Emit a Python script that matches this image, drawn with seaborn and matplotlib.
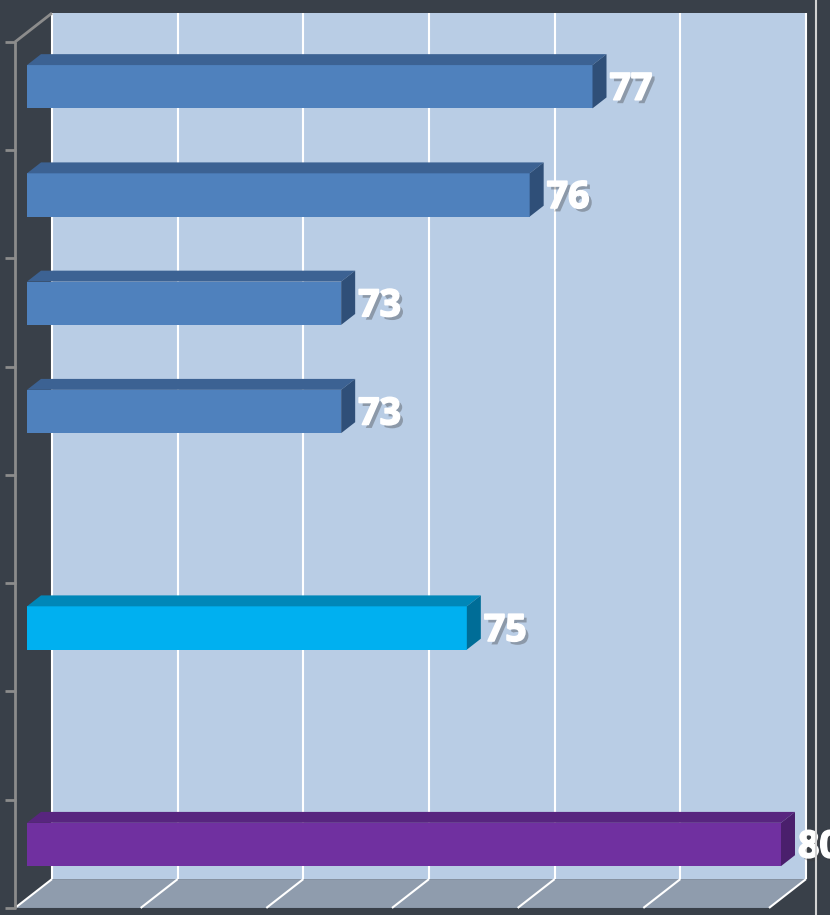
import numpy as np
import pandas as pd
import matplotlib
matplotlib.use("Agg")
import matplotlib.pyplot as plt
import seaborn as sns
from matplotlib.patches import Polygon
from matplotlib.lines import Line2D
from matplotlib.transforms import IdentityTransform
import matplotlib.patheffects as pe

# ---------------- data ----------------
categories = ["Cat 1", "Cat 2", "Cat 3", "Cat 4", "Cat 5", "Cat 6", "Cat 7", "Cat 8"]
bar_categories = ["Cat 1", "Cat 2", "Cat 3", "Cat 4", "Cat 6", "Cat 8"]
values = [77, 76, 73, 73, 75, 80]
x_min, x_max, x_step = 68, 80, 2

front_colors = {"Cat 1": "#4f81bd", "Cat 2": "#4f81bd", "Cat 3": "#4f81bd",
                "Cat 4": "#4f81bd", "Cat 6": "#00b0f0", "Cat 8": "#7030a0"}
top_colors = {"Cat 1": "#3c6293", "Cat 2": "#3c6293", "Cat 3": "#3c6293",
              "Cat 4": "#3c6293", "Cat 6": "#0087b8", "Cat 8": "#58257f"}
side_colors = {"Cat 1": "#2f4f78", "Cat 2": "#2f4f78", "Cat 3": "#2f4f78",
               "Cat 4": "#2f4f78", "Cat 6": "#006d97", "Cat 8": "#4a1f6c"}

BG = "#394049"
WALL = "#b9cde5"
FLOOR = "#8f9cad"
AXIS_GRAY = "#8c8c8c"

df = pd.DataFrame({"category": bar_categories, "value": values})
value_of = dict(zip(bar_categories, values))

W, H, DPI = 830, 915, 100
fig = plt.figure(figsize=(W / DPI, H / DPI), dpi=DPI, facecolor=BG)
top_px, bot_px = 32.6, 898.6
ax = fig.add_axes([27 / W, 1 - bot_px / H, 754 / W, (bot_px - top_px) / H])
ax.set_facecolor("none")

sns.barplot(data=df, x="value", y="category", order=categories, hue="category",
            palette=front_colors, width=0.4, orient="h", legend=False, ax=ax,
            edgecolor="none", saturation=1, zorder=2)
ax.set_xlim(x_min, x_max)
ax.set_ylim(len(categories) - 0.5, -0.5)
ax.axis("off")

bars = list(ax.patches)

RATIO = 0.78
D_FRONT, D_BAR, D_BACK = -12, 14, 25


def P(x, y, d=0.0):
    px, py = ax.transData.transform((x, y))
    return (px + d, py + RATIO * d)


def poly(pts, color, z, ec="none", lw=0):
    ax.add_patch(Polygon(pts, closed=True, facecolor=color, edgecolor=ec, lw=lw,
                         transform=IdentityTransform(), clip_on=False, zorder=z))


def line(p0, p1, color, lw, z):
    ax.add_line(Line2D([p0[0], p1[0]], [p0[1], p1[1]], color=color, lw=lw,
                       transform=IdentityTransform(), clip_on=False, zorder=z,
                       solid_capstyle="butt"))


y_top, y_bot = -0.5, len(categories) - 0.5

# back wall
poly([P(x_min, y_top, D_BACK), P(x_max, y_top, D_BACK),
      P(x_max, y_bot, D_BACK), P(x_min, y_bot, D_BACK)], WALL, 0.1)
# floor
poly([P(x_min, y_bot, D_BACK), P(x_max, y_bot, D_BACK),
      P(x_max, y_bot, D_FRONT), P(x_min, y_bot, D_FRONT)], FLOOR, 0.1)
# left side wall
poly([P(x_min, y_top, D_FRONT), P(x_min, y_top, D_BACK),
      P(x_min, y_bot, D_BACK), P(x_min, y_bot, D_FRONT)], BG, 0.1)

# gridlines
for v in np.arange(x_min, x_max + 0.1, x_step):
    line(P(v, y_top, D_BACK), P(v, y_bot, D_BACK), "white", 1.5, 0.5)
    line(P(v, y_bot, D_BACK), P(v, y_bot, D_FRONT), "white", 1.5, 0.5)

# left axis
line(P(x_min, y_top, D_FRONT), P(x_min, y_bot, D_FRONT), AXIS_GRAY, 2.0, 0.6)
line(P(x_min, y_top, D_FRONT), P(x_min, y_top, D_BACK), AXIS_GRAY, 2.0, 0.6)
for k in range(len(categories) + 1):
    p = P(x_min, y_top + k, D_FRONT)
    line((p[0] - 10, p[1]), (p[0] + 1, p[1]), AXIS_GRAY, 2.0, 0.6)

# 3D faces + labels
for b in bars:
    w = b.get_width()
    if not np.isfinite(w) or w == 0:
        continue
    yc = b.get_y() + b.get_height() / 2
    cat = categories[int(round(yc))]
    x0 = max(b.get_x(), x_min)
    x1 = b.get_x() + w
    y0, y1 = b.get_y(), b.get_y() + b.get_height()  # y0 = upper edge (inverted axis)
    poly([P(x0, y0), P(x1, y0), P(x1, y0, D_BAR), P(x0, y0, D_BAR)], top_colors[cat], 2.1)
    poly([P(x1, y0), P(x1, y1), P(x1, y1, D_BAR), P(x1, y0, D_BAR)], side_colors[cat], 2.1)
    ax.annotate(f"{value_of[cat]}", xy=(x1, yc), xytext=(17, -3),
                textcoords="offset pixels", ha="left", va="center",
                fontsize=27, fontweight="bold", family=["Open Sans", "DejaVu Sans"],
                color="white", annotation_clip=False, zorder=3,
                path_effects=[pe.withSimplePatchShadow(offset=(2.5, -2.5),
                                                       shadow_rgbFace="#3a3a3a",
                                                       alpha=0.35),
                              pe.Stroke(linewidth=1.2, foreground="white"),
                              pe.Normal()])

# right border line
fig.add_artist(Line2D([815.5 / W, 815.5 / W], [0, 1], color="#d2d2d2", lw=1.5,
                      transform=fig.transFigure))

fig.savefig("out.png", dpi=DPI, facecolor=BG)
